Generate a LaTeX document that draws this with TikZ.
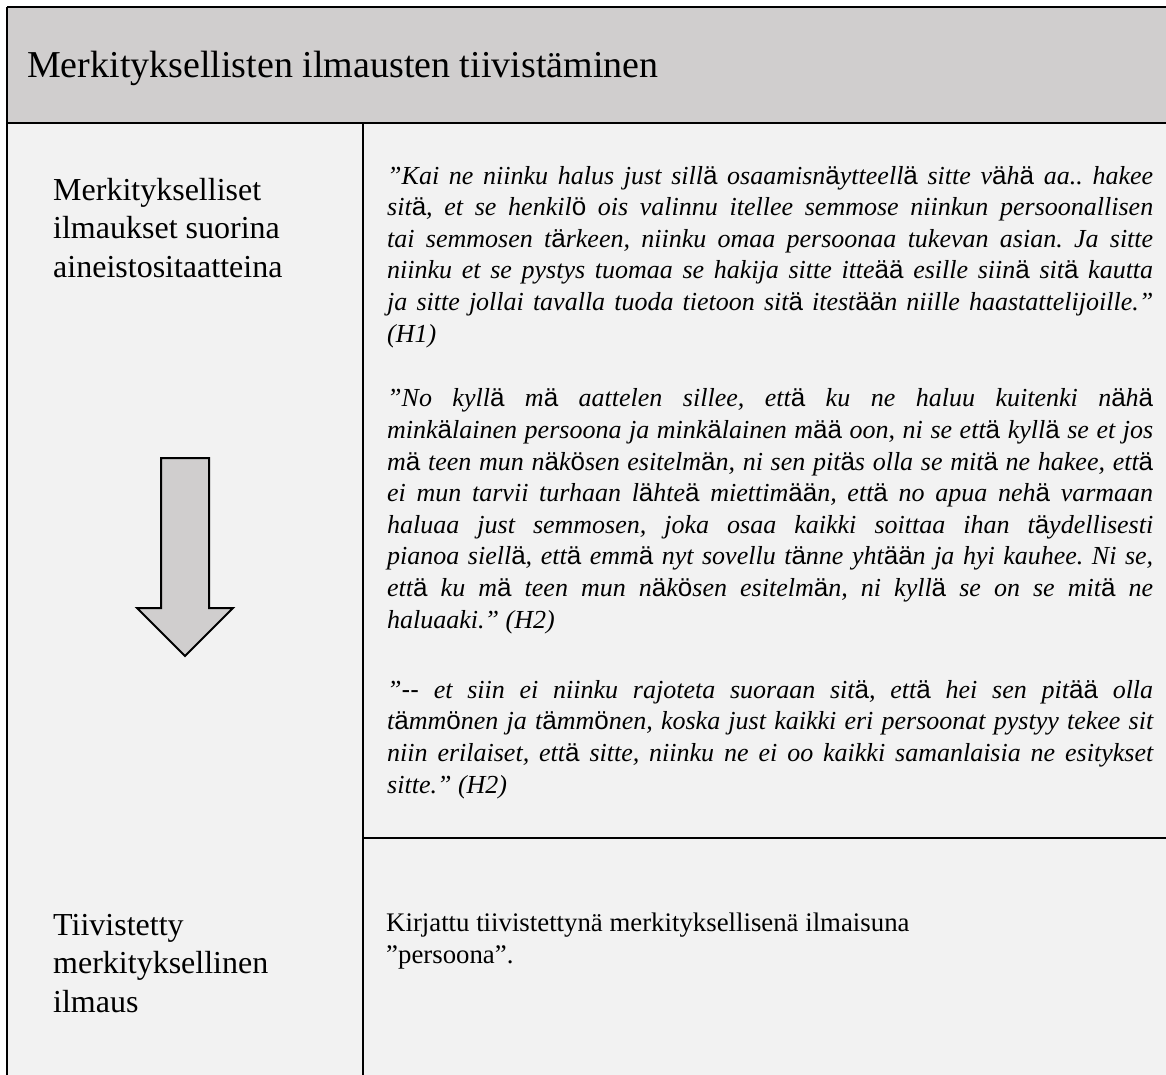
\documentclass[tikz,border=0pt]{standalone}
\usepackage{fontspec}
\setmainfont{Liberation Serif}
\newfontfamily\sansalt{Liberation Sans}
\newcommand\saa{{\sansalt\upshape ä}}
\newcommand\soo{{\sansalt\upshape ö}}
\newcommand\jl[1]{\makebox[766pt][s]{#1}}
\definecolor{hdrgray}{HTML}{D0CECE}
\definecolor{bodygray}{HTML}{F2F2F2}
\tikzset{
  rule/.style={draw=black, line width=2.4pt},
  hdrtext/.style={anchor=base west, inner sep=0pt, font=\fontsize{38}{46}\selectfont},
  labtext/.style={anchor=base west, inner sep=0pt, align=left, font=\fontsize{32}{38.5}\selectfont},
  quotetext/.style={anchor=base west, inner sep=0pt, align=left, font=\fontsize{26}{31.6}\selectfont\itshape\frenchspacing},
  sumtext/.style={anchor=base west, inner sep=0pt, align=left, font=\fontsize{26.8}{32}\selectfont\frenchspacing},
  bigarrow/.style={draw=black, line width=2pt, fill=hdrgray, line join=miter},
}
\begin{document}
\begin{tikzpicture}[x=1pt,y=-1pt]
\useasboundingbox (0,0) rectangle (1166,1075);
\fill[white] (0,0) rectangle (1166,1075);
% fills
\fill[hdrgray] (7,7) rectangle (1170,123);
\fill[bodygray] (7,123) rectangle (1170,1080);
% rules
\coordinate (tl) at (7,7);
\coordinate (tr) at (1170,7);
\coordinate (bl) at (7,1080);
\coordinate (hl) at (7,123);
\coordinate (hr) at (1170,123);
\coordinate (dt) at (363,123);
\coordinate (db) at (363,1080);
\coordinate (ml) at (363,838);
\coordinate (mr) at (1170,838);
\draw[rule] (tl) -- (tr);
\draw[rule] (tl) -- (bl);
\draw[rule] (hl) -- (hr);
\draw[rule] (dt) -- (db);
\draw[rule] (ml) -- (mr);
% header
\node[hdrtext] (hdr) at (27,78) {Merkityksellisten ilmausten tiivistäminen};
% left labels (anchor = baseline of last line)
\node[labtext] (lab1) at (53,277) {Merkitykselliset\\ilmaukset suorina\\aineistositaatteina};
\node[labtext] (lab2) at (53,1012) {Tiivistetty\\merkityksellinen\\ilmaus};
% arrow
\draw[bigarrow] (161,458) -- (209,458) -- (209,608) -- (233,608) -- (185,656) -- (137,608) -- (161,608) -- cycle;
% quotes (anchor = baseline of last line)
\node[quotetext] (q1) at (387,342) {%
\jl{”Kai ne niinku halus just sill\saa{} osaamisn\saa{}ytteell\saa{} sitte v\saa{}h\saa{} aa.. hakee}\\
\jl{sit\saa{}, et se henkil\soo{} ois valinnu itellee semmose niinkun persoonallisen}\\
\jl{tai semmosen t\saa{}rkeen, niinku omaa persoonaa tukevan asian. Ja sitte}\\
\jl{niinku et se pystys tuomaa se hakija sitte itte\saa\saa{} esille siin\saa{} sit\saa{} kautta}\\
\jl{ja sitte jollai tavalla tuoda tietoon sit\saa{} itest\saa\saa{}n niille haastattelijoille.”}\\
(H1)};
\node[quotetext] (q2) at (387,628) {%
\jl{”No kyll\saa{} m\saa{} aattelen sillee, ett\saa{} ku ne haluu kuitenki n\saa{}h\saa{}}\\
\jl{mink\saa{}lainen persoona ja mink\saa{}lainen m\saa\saa{} oon, ni se ett\saa{} kyll\saa{} se et jos}\\
\jl{m\saa{} teen mun n\saa{}k\soo{}sen esitelm\saa{}n, ni sen pit\saa{}s olla se mit\saa{} ne hakee, ett\saa{}}\\
\jl{ei mun tarvii turhaan l\saa{}hte\saa{} miettim\saa\saa{}n, ett\saa{} no apua neh\saa{} varmaan}\\
\jl{haluaa just semmosen, joka osaa kaikki soittaa ihan t\saa{}ydellisesti}\\
\jl{pianoa siell\saa{}, ett\saa{} emm\saa{} nyt sovellu t\saa{}nne yht\saa\saa{}n ja hyi kauhee. Ni se,}\\
\jl{ett\saa{} ku m\saa{} teen mun n\saa{}k\soo{}sen esitelm\saa{}n, ni kyll\saa{} se on se mit\saa{} ne}\\
haluaaki.” (H2)};
\node[quotetext] (q3) at (387,793) {%
\jl{”{\sansalt\upshape -{}-} et siin ei niinku rajoteta suoraan sit\saa{}, ett\saa{} hei sen pit\saa\saa{} olla}\\
\jl{t\saa{}mm\soo{}nen ja t\saa{}mm\soo{}nen, koska just kaikki eri persoonat pystyy tekee sit}\\
\jl{niin erilaiset, ett\saa{} sitte, niinku ne ei oo kaikki samanlaisia ne esitykset}\\
sitte.” (H2)};
% summary
\node[sumtext] (sum) at (386,963) {Kirjattu tiivistettynä merkityksellisenä ilmaisuna\\”persoona”.};
\end{tikzpicture}
\end{document}
